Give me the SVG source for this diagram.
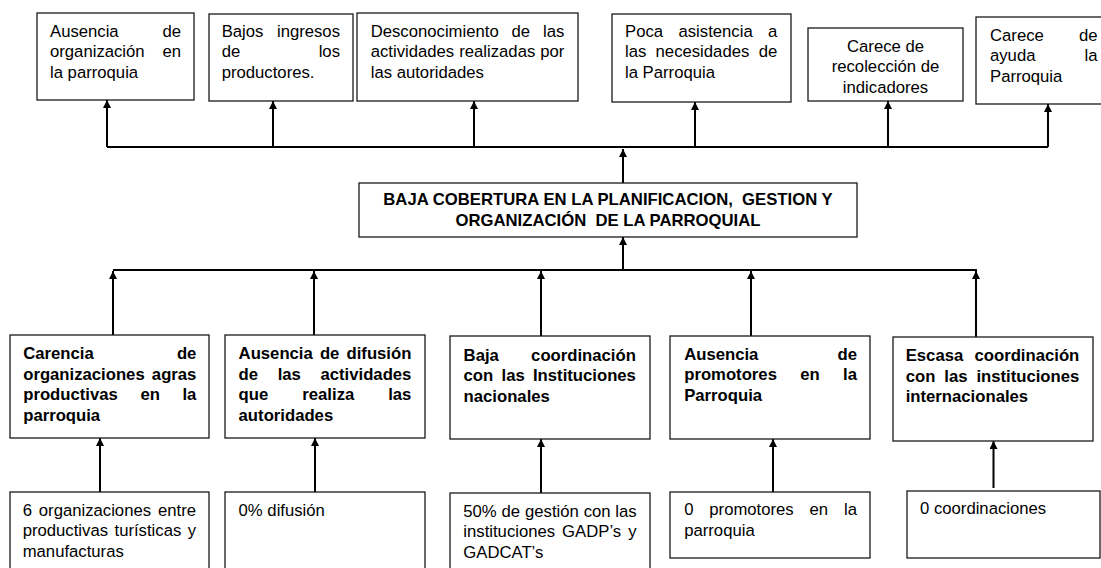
<svg xmlns="http://www.w3.org/2000/svg" width="1101" height="568" viewBox="0 0 1101 568">
<defs>
<marker id="ah" viewBox="0 0 10 10" refX="10" refY="5" markerWidth="9" markerHeight="8" markerUnits="userSpaceOnUse" orient="auto">
<path d="M0,0 L10,5 L0,10 z" fill="#000"/>
</marker>
<style>
.box{fill:#fff;stroke:#1a1a1a;stroke-width:1.3}
.t{font-family:"Liberation Sans",Arial,sans-serif;font-size:16.7px;fill:#000}
.b{font-weight:bold}
.e{text-anchor:end}
.m{text-anchor:middle}
.c{fill:none;stroke:#000;stroke-width:2}
.a{fill:none;stroke:#000;stroke-width:2;marker-end:url(#ah)}
</style>
</defs>
<rect width="1101" height="568" fill="#fff"/>

<g id="connectors">
<line class="c" x1="107" y1="147" x2="1048" y2="147"/>
<line class="a" x1="107" y1="147" x2="107" y2="100"/>
<line class="a" x1="273" y1="147" x2="273" y2="101"/>
<line class="a" x1="474" y1="147" x2="474" y2="101"/>
<line class="a" x1="695" y1="147" x2="695" y2="102"/>
<line class="a" x1="888" y1="147" x2="888" y2="101"/>
<line class="a" x1="1048" y1="147" x2="1048" y2="104"/>
<line class="a" x1="623" y1="183" x2="623" y2="149"/>
<line class="a" x1="623" y1="270" x2="623" y2="237"/>
<line class="c" x1="113" y1="270" x2="977" y2="270"/>
<line class="a" x1="113" y1="335" x2="113" y2="271"/>
<line class="a" x1="314" y1="335" x2="314" y2="271"/>
<line class="a" x1="541" y1="336" x2="541" y2="271"/>
<line class="a" x1="751" y1="336" x2="751" y2="271"/>
<line class="a" x1="976" y1="337" x2="976" y2="271"/>
<line class="a" x1="100" y1="492" x2="100" y2="438"/>
<line class="a" x1="315" y1="492" x2="315" y2="438"/>
<line class="a" x1="541" y1="493" x2="541" y2="439"/>
<line class="a" x1="773" y1="492" x2="773" y2="439"/>
<line class="a" x1="993.5" y1="488" x2="993.5" y2="441"/>
</g>

<g id="n_top1">
<rect class="box" x="37" y="13" width="157" height="87"/>
<text class="t" x="50" y="36.5">Ausencia</text><text class="t e" x="181" y="36.5">de</text>
<text class="t" x="50" y="57">organización</text><text class="t e" x="181" y="57">en</text>
<text class="t" x="50" y="77.5">la parroquia</text>
</g>
<g id="n_top2">
<rect class="box" x="209" y="14" width="144" height="87"/>
<text class="t" x="221.7" y="36.5">Bajos</text><text class="t e" x="340" y="36.5">ingresos</text>
<text class="t" x="221.7" y="57">de</text><text class="t e" x="340" y="57">los</text>
<text class="t" x="221.7" y="77.5">productores.</text>
</g>
<g id="n_top3">
<rect class="box" x="357" y="13" width="221" height="88"/>
<text class="t" x="370.7" y="36.5">Desconocimiento</text><text class="t" x="511.6" y="36.5">de</text><text class="t e" x="564.3" y="36.5">las</text>
<text class="t" x="370.7" y="57">actividades</text><text class="t" x="459.2" y="57">realizadas</text><text class="t e" x="564.3" y="57">por</text>
<text class="t" x="370.7" y="77.5">las autoridades</text>
</g>
<g id="n_top4">
<rect class="box" x="612" y="14" width="179" height="88"/>
<text class="t" x="625" y="36.5">Poca</text><text class="t" x="678.5" y="36.5">asistencia</text><text class="t e" x="777.3" y="36.5">a</text>
<text class="t" x="625" y="57">las</text><text class="t" x="655.6" y="57">necesidades</text><text class="t e" x="777.3" y="57">de</text>
<text class="t" x="625" y="77.5">la Parroquia</text>
</g>
<g id="n_top5">
<rect class="box" x="808" y="28" width="155" height="73"/>
<text class="t m" x="885.5" y="51.5">Carece de</text>
<text class="t m" x="885.5" y="72.3">recolección de</text>
<text class="t m" x="885.5" y="93">indicadores</text>
</g>
<g id="n_top6">
<rect class="box" x="976" y="17" width="140" height="87"/>
<text class="t" x="990" y="40.5">Carece</text><text class="t e" x="1097.5" y="40.5">de</text>
<text class="t" x="990" y="61">ayuda</text><text class="t e" x="1097.5" y="61">la</text>
<text class="t" x="990" y="81.5">Parroquia</text>
</g>

<g id="n_main">
<rect class="box" x="359" y="183" width="498" height="54"/>
<text class="t b m" x="608" y="205" xml:space="preserve">BAJA COBERTURA EN LA PLANIFICACION,  GESTION Y</text>
<text class="t b m" x="608" y="225.5" xml:space="preserve">ORGANIZACIÓN  DE LA PARROQUIAL</text>
</g>

<g id="n_midA">
<rect class="box" x="10" y="335" width="199" height="103"/>
<text class="t b" x="23.2" y="359">Carencia</text><text class="t b e" x="196.4" y="359">de</text>
<text class="t b" x="23.2" y="379.5">organizaciones</text><text class="t b e" x="196.4" y="379.5">agras</text>
<text class="t b" x="23.2" y="400">productivas</text><text class="t b" x="140.4" y="400">en</text><text class="t b e" x="196.4" y="400">la</text>
<text class="t b" x="23.2" y="420.5">parroquia</text>
</g>
<g id="n_midB">
<rect class="box" x="225" y="335" width="200" height="103"/>
<text class="t b" x="238.6" y="359">Ausencia</text><text class="t b" x="319.9" y="359">de</text><text class="t b e" x="411.4" y="359">difusión</text>
<text class="t b" x="238.6" y="379.5">de</text><text class="t b" x="277.7" y="379.5">las</text><text class="t b e" x="411.4" y="379.5">actividades</text>
<text class="t b" x="238.6" y="400">que</text><text class="t b" x="302.3" y="400">realiza</text><text class="t b e" x="411.4" y="400">las</text>
<text class="t b" x="238.6" y="420.5">autoridades</text>
</g>
<g id="n_midC">
<rect class="box" x="450" y="336" width="200" height="103"/>
<text class="t b" x="463.6" y="360.5">Baja</text><text class="t b e" x="635.9" y="360.5">coordinación</text>
<text class="t b" x="463.6" y="381">con</text><text class="t b" x="501.5" y="381">las</text><text class="t b e" x="635.9" y="381">Instituciones</text>
<text class="t b" x="463.6" y="401.5">nacionales</text>
</g>
<g id="n_midD">
<rect class="box" x="670" y="336" width="200" height="103"/>
<text class="t b" x="684.2" y="359.5">Ausencia</text><text class="t b e" x="857" y="359.5">de</text>
<text class="t b" x="684.2" y="380">promotores</text><text class="t b" x="800.3" y="380">en</text><text class="t b e" x="857" y="380">la</text>
<text class="t b" x="684.2" y="400.5">Parroquia</text>
</g>
<g id="n_midE">
<rect class="box" x="893" y="337" width="200" height="104"/>
<text class="t b" x="905.7" y="361">Escasa</text><text class="t b e" x="1079.3" y="361">coordinación</text>
<text class="t b" x="905.7" y="381.5">con</text><text class="t b" x="944.3" y="381.5">las</text><text class="t b e" x="1079.3" y="381.5">instituciones</text>
<text class="t b" x="905.7" y="402">internacionales</text>
</g>

<g id="n_botA">
<rect class="box" x="10" y="492" width="199" height="90"/>
<text class="t" x="22.7" y="515.5">6</text><text class="t" x="38.8" y="515.5">organizaciones</text><text class="t e" x="196" y="515.5">entre</text>
<text class="t" x="22.7" y="536">productivas</text><text class="t" x="114.5" y="536">turísticas</text><text class="t e" x="196" y="536">y</text>
<text class="t" x="22.7" y="556.5">manufacturas</text>
</g>
<g id="n_botB">
<rect class="box" x="225" y="492" width="200" height="90"/>
<text class="t" x="238.6" y="515.5">0% difusión</text>
</g>
<g id="n_botC">
<rect class="box" x="450" y="493" width="200" height="90"/>
<text class="t" x="463.3" y="516.5">50%</text><text class="t" x="501.6" y="516.5">de</text><text class="t" x="525" y="516.5">gestión</text><text class="t" x="583.7" y="516.5">con</text><text class="t e" x="636.7" y="516.5">las</text>
<text class="t" x="463.3" y="537">instituciones</text><text class="t" x="562.1" y="537">GADP’s</text><text class="t e" x="636.7" y="537">y</text>
<text class="t" x="463.3" y="557.5">GADCAT’s</text>
</g>
<g id="n_botD">
<rect class="box" x="670" y="492" width="200" height="66"/>
<text class="t" x="684.2" y="515">0</text><text class="t" x="709.3" y="515">promotores</text><text class="t" x="809.6" y="515">en</text><text class="t e" x="857" y="515">la</text>
<text class="t" x="684.2" y="535.5">parroquia</text>
</g>
<g id="n_botE">
<rect class="box" x="907" y="491" width="193" height="67"/>
<text class="t" x="920" y="513.5">0 coordinaciones</text>
</g>
</svg>
